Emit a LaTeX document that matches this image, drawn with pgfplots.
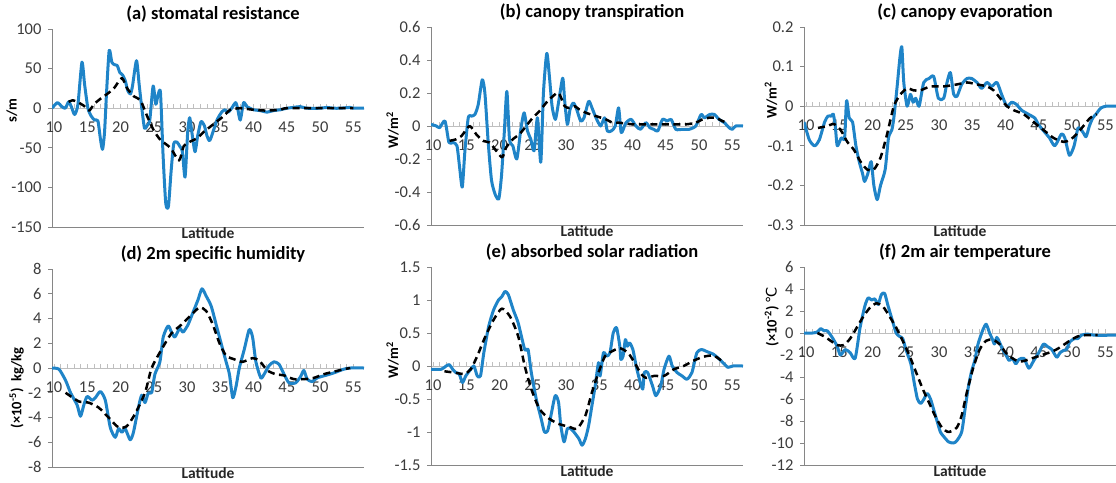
\documentclass[border=0pt]{standalone}
\usepackage{fontspec}
\setmainfont{Carlito}
\newfontfamily\dejavu{DejaVu Sans}
\usepackage{pgfplots}
\pgfplotsset{compat=1.18}
\definecolor{lineblue}{RGB}{31,132,200}
\definecolor{axisgray}{RGB}{134,134,134}
\definecolor{zerogray}{RGB}{191,191,191}
\definecolor{labelgray}{RGB}{60,60,60}

\pgfplotsset{
  panel/.style={
    scale only axis, width=312pt, height=198pt,
    xmin=9.7, xmax=56.6,
    axis x line=middle, axis y line=left,
    axis line style={-},
    every inner x axis line/.append style={-},
    every outer y axis line/.append style={-},
    x axis line style={-, draw=zerogray, line width=0.9pt},
    y axis line style={-, draw=axisgray, line width=1pt},
    xtick={10,15,...,55}, minor x tick num=4,
    xtick align=inside, ytick align=outside,
    major tick length=4pt, minor tick length=4pt,
    x tick style={draw=zerogray, line width=0.8pt},
    y tick style={draw=axisgray, line width=1pt},
    hide obscured x ticks=false, hide obscured y ticks=false,
    tick label style={font=\fontsize{16.5}{18}\selectfont, text=labelgray},
    /pgf/number format/assume math mode=true,
    xticklabel style={yshift=-10pt},
    yticklabel style={xshift=-3pt},
    xlabel={Latitude},
    xlabel style={at={(axis description cs:0.5,0)}, anchor=north,
      font=\fontsize{15.5}{17}\selectfont\bfseries, text=black!85, inner sep=0.5pt},
    title style={at={(axis description cs:0.5,1)}, anchor=center,
      yshift=9pt, xshift=5pt, font=\fontsize{18.5}{21}\selectfont\bfseries},
    ylabel style={anchor=center, font=\fontsize{14.5}{16}\selectfont\bfseries},
    after end axis/.code={\draw[axisgray, line width=1pt]
      (rel axis cs:0,0) -- (rel axis cs:1,0);},
  },
  blue line/.style={lineblue, line width=3pt, smooth, tension=0.4, line join=round},
  dash line/.style={black, line width=2.5pt, dash pattern=on 7pt off 4.5pt,
    smooth, tension=0.4, line join=round},
}

\begin{document}
\begin{tikzpicture}
\useasboundingbox (0,0) rectangle (1116pt,-482pt);

% (a) stomatal resistance
\begin{axis}[panel, at={(52pt,-227pt)}, anchor=south west,
  ymin=-150, ymax=100, ytick={-150,-100,-50,0,50,100},
  title={(a) stomatal resistance}, ylabel={s/m},
  ylabel style={at={(axis description cs:-0.129,0.59)}}]
\addplot[blue line] coordinates {
 (9.7,0) (10.5,7) (11.2,2) (11.7,0) (12.2,8) (12.6,2) (13.1,-8) (13.6,5)
 (14.2,58) (14.6,30) (15.1,0) (15.6,-10) (16.1,-15) (16.6,-16) (17.0,-40)
 (17.3,-52) (17.6,-30) (17.9,20) (18.3,73) (18.7,58) (19.1,55) (19.5,54)
 (19.9,45) (20.3,42) (20.7,35) (21.1,22) (21.5,18) (21.8,28) (22.4,60)
 (22.8,30) (23.2,0) (23.6,-25) (24.0,-22) (24.4,-15) (24.9,28) (25.3,5)
 (25.6,15) (26.0,20) (26.4,-60) (26.8,-120) (27.2,-124) (27.6,-80) (28.0,-45)
 (28.5,-43) (28.9,-48) (29.3,-55) (29.7,-87) (30.1,-30) (30.4,-12) (30.8,-35)
 (31.2,-55) (31.6,-35) (32.1,-17) (32.6,-22) (33.0,-35) (33.4,-41) (33.9,-30)
 (34.5,-15) (35.2,-5) (35.7,-2) (36.2,-5) (36.7,0) (37.3,7) (37.6,0)
 (38.0,-15) (38.5,7) (39.0,2) (40.0,-2) (41.0,-3) (42.0,-5) (43.0,-3)
 (44.0,-2) (45.0,0) (46.0,1) (47.0,2) (48.0,0) (50.0,0) (51.0,1) (52.0,0)
 (53.0,0) (54.5,1) (55.0,0) (56.6,0)
};
\addplot[dash line] coordinates {
 (12.2,8) (12.8,10) (13.5,8) (14.5,3) (15.3,-3) (16.0,5) (17.0,12) (18.0,18)
 (19.0,25) (20.2,38) (21.0,25) (22.0,15) (23.0,10) (24.0,-10) (25.0,-28)
 (26.0,-40) (27.5,-50) (28.8,-66) (29.5,-48) (30.5,-42) (31.5,-38) (32.5,-30)
 (34.0,-20) (35.5,-10) (36.5,-2) (38.0,0) (40.0,-2) (42.0,-3) (44.0,-2)
 (45.0,0) (50.0,0) (55.0,0)
};
\end{axis}

% (b) canopy transpiration
\begin{axis}[panel, at={(431pt,-225pt)}, anchor=south west,
  ymin=-0.6, ymax=0.6, ytick={-0.6,-0.4,-0.2,0,0.2,0.4,0.6},
  title={(b) canopy transpiration}, ylabel={W/m\textsuperscript{2}},
  ylabel style={at={(axis description cs:-0.123,0.48)}}]
\addplot[blue line] coordinates {
 (9.7,0.01) (10.5,0.0) (11.0,-0.01) (11.8,0.03) (12.4,-0.1) (13.0,-0.1)
 (13.6,-0.12) (14.0,-0.25) (14.4,-0.37) (14.8,-0.15) (15.3,0.05) (15.8,0.06)
 (16.3,0.07) (16.8,0.13) (17.4,0.28) (17.8,0.2) (18.3,-0.1) (18.8,-0.33)
 (19.4,-0.42) (19.9,-0.44) (20.3,-0.3) (20.7,-0.05) (21.1,0.21) (21.5,-0.08)
 (22.0,-0.12) (22.6,-0.2) (23.2,-0.02) (23.7,0.08) (24.2,-0.03) (24.7,-0.08)
 (25.2,-0.15) (25.7,0.05) (26.2,-0.22) (26.6,0.2) (27.1,0.44) (27.5,0.3)
 (27.9,0.12) (28.4,0.04) (28.9,0.15) (29.5,0.29) (29.8,0.15) (30.2,0.01)
 (30.6,0.1) (31.1,0.14) (31.6,0.1) (32.2,0.03) (32.7,0.05) (33.4,0.15)
 (33.9,0.11) (34.5,0.05) (35.2,0.0) (35.8,0.05) (36.2,-0.03) (36.8,-0.03)
 (37.4,0.0) (37.9,0.11) (38.3,-0.04) (39.0,0.02) (39.8,0.04) (40.5,0.0)
 (41.2,-0.02) (42.0,0.02) (42.6,-0.01) (43.2,-0.02) (43.8,-0.03) (44.5,0.04)
 (45.2,0.03) (45.8,0.04) (46.5,-0.02) (47.5,-0.02) (48.5,-0.02) (49.5,0.0)
 (50.3,0.07) (50.8,0.05) (51.6,0.07) (52.3,0.07) (53.0,0.04) (53.8,0.02)
 (54.5,-0.01) (55.0,-0.02) (55.5,0.0) (56.6,0.0)
};
\addplot[dash line] coordinates {
 (12.5,-0.09) (13.5,-0.08) (14.3,-0.06) (15.5,0.0) (16.5,-0.05) (17.5,-0.09)
 (18.5,-0.1) (19.5,-0.15) (20.4,-0.19) (21.0,-0.13) (22.0,-0.08) (23.0,-0.05)
 (24.0,0.0) (25.0,0.05) (26.0,0.09) (27.0,0.14) (28.0,0.18) (28.9,0.2)
 (29.8,0.12) (30.5,0.11) (31.3,0.12) (32.0,0.1) (33.0,0.08) (34.5,0.06)
 (36.0,0.04) (37.0,0.02) (38.0,0.02) (40.0,0.01) (42.0,0.01) (44.0,0.01)
 (46.0,0.01) (48.0,0.01) (49.5,0.02) (50.5,0.04) (51.5,0.05) (52.5,0.05)
 (53.5,0.03) (54.2,0.02)
};
\end{axis}

% (c) canopy evaporation
\begin{axis}[panel, at={(804pt,-225pt)}, anchor=south west,
  ymin=-0.3, ymax=0.2, ytick={-0.3,-0.2,-0.1,0,0.1,0.2},
  title={(c) canopy evaporation}, ylabel={W/m\textsuperscript{2}},
  ylabel style={at={(axis description cs:-0.106,0.63)}}]
\addplot[blue line] coordinates {
 (9.7,-0.04) (10.5,-0.085) (11.3,-0.1) (12.0,-0.085) (12.8,-0.04) (13.3,-0.025)
 (13.8,-0.025) (14.1,-0.02) (14.4,-0.05) (14.7,-0.1) (15.3,-0.08) (15.8,-0.08)
 (16.1,0.014) (16.5,-0.03) (17.0,-0.04) (17.5,-0.1) (18.0,-0.14) (18.5,-0.17)
 (18.8,-0.19) (19.3,-0.17) (19.8,-0.14) (20.2,-0.2) (20.7,-0.236) (21.2,-0.2)
 (21.9,-0.16) (22.4,-0.08) (22.9,-0.06) (23.2,-0.03) (23.7,0.05) (24.1,0.12)
 (24.4,0.15) (24.7,0.06) (25.2,0.0) (25.7,0.03) (26.1,0.01) (26.5,0.02)
 (27.0,0.0) (27.7,0.06) (28.5,0.07) (29.2,0.075) (29.9,0.02) (30.7,0.02)
 (31.2,0.06) (31.7,0.085) (32.2,0.03) (32.7,0.025) (33.4,0.055) (34.2,0.07)
 (34.9,0.07) (35.7,0.06) (36.4,0.045) (37.2,0.06) (37.9,0.05) (38.7,0.06)
 (39.4,0.03) (40.2,0.0) (40.9,0.01) (41.6,0.005) (42.4,-0.01) (43.4,-0.02)
 (44.4,-0.03) (44.9,-0.045) (45.6,-0.06) (46.6,-0.08) (47.4,-0.1) (48.4,-0.07)
 (48.9,-0.08) (49.6,-0.124) (50.3,-0.1) (50.9,-0.055) (51.6,-0.065)
 (52.1,-0.077) (52.6,-0.05) (53.1,-0.03) (53.6,-0.02) (54.3,-0.005)
 (55.1,0.0) (56.6,0.0)
};
\addplot[dash line] coordinates {
 (11.8,-0.055) (13.2,-0.05) (14.2,-0.045) (15.2,-0.06) (16.2,-0.09)
 (17.2,-0.11) (18.2,-0.14) (19.2,-0.16) (20.2,-0.16) (21.2,-0.13)
 (22.2,-0.07) (23.2,0.0) (24.2,0.03) (25.2,0.045) (26.2,0.04) (27.2,0.04)
 (28.7,0.05) (30.7,0.05) (32.7,0.055) (34.2,0.06) (35.7,0.055) (37.2,0.05)
 (38.2,0.04) (39.2,0.02) (40.2,0.0) (41.2,-0.01) (42.7,-0.02) (44.2,-0.04)
 (45.7,-0.06) (47.2,-0.08) (48.7,-0.09) (49.7,-0.085) (50.7,-0.07)
 (51.7,-0.05) (52.7,-0.03) (53.7,-0.02)
};
\end{axis}

% (d) 2m specific humidity
\begin{axis}[panel, at={(52pt,-467pt)}, anchor=south west,
  ymin=-8, ymax=8, ytick={-8,-6,...,8},
  title={(d) 2m specific humidity},
  ylabel={(×10\textsuperscript{-5})\ \ kg/kg},
  ylabel style={at={(axis description cs:-0.113,0.40)}}]
\addplot[blue line] coordinates {
 (9.7,0) (10.75,-0.1) (11.74,-1.0) (12.49,-2.0) (13.48,-3.0) (13.98,-3.9)
 (14.48,-3.0) (14.98,-2.3) (15.72,-2.6) (16.22,-2.4) (16.97,-1.9) (17.71,-2.6)
 (18.46,-4.8) (19.2,-5.6) (19.7,-4.9) (20.2,-5.2) (20.7,-4.9) (21.44,-5.8)
 (21.94,-5.2) (22.69,-3.2) (23.18,-2.2) (23.68,-2.8) (24.18,-2.0) (24.68,-2.0)
 (25.17,-0.5) (25.92,0.5) (26.42,2.5) (27.16,3.4) (27.66,2.9) (28.16,2.5)
 (28.9,3.2) (29.4,2.9) (30.15,3.5) (30.9,4.5) (31.64,5.5) (32.24,6.4)
 (32.89,5.8) (33.63,5.0) (34.38,3.5) (35.12,2.0) (35.87,0.5) (36.37,-0.5)
 (36.87,-2.4) (37.36,-1.5) (37.86,0.0) (38.6,1.5) (39.35,3.1) (39.85,2.5)
 (40.35,0.5) (41.09,-0.8) (41.59,-0.5) (42.34,0.2) (43.08,0.5) (43.83,0.3)
 (44.58,-0.5) (45.32,-1.2) (46.32,-1.2) (47.06,-0.7) (47.56,-0.2) (48.06,-0.9)
 (48.81,-1.1) (49.55,-0.8) (50.8,-0.6) (52.04,-0.4) (53.53,-0.1) (54.53,0)
 (56.6,0)
};
\addplot[dash line] coordinates {
 (11.74,-2.0) (13.73,-2.7) (15.22,-2.8) (16.72,-3.2) (18.21,-4.0) (19.7,-4.8)
 (20.95,-4.7) (22.19,-3.7) (23.68,-2.0) (24.68,0.0) (26.17,1.5) (27.66,2.8)
 (29.15,3.5) (30.65,4.3) (31.89,4.9) (32.89,4.6) (33.88,3.5) (34.88,2.0)
 (35.87,1.0) (37.11,0.7) (38.36,0.5) (39.85,0.8) (40.85,0.6) (42.09,-0.2)
 (43.33,-0.5) (44.58,-0.6) (46.07,-0.9) (47.56,-0.9) (49.05,-0.8)
 (50.55,-0.5) (52.04,-0.3) (53.53,-0.1) (54.53,0.0)
};
\end{axis}

% (e) absorbed solar radiation
\begin{axis}[panel, at={(431pt,-465pt)}, anchor=south west,
  ymin=-1.5, ymax=1.5, ytick={-1.5,-1,-0.5,0,0.5,1,1.5},
  title={(e) absorbed solar radiation}, ylabel={W/m\textsuperscript{2}},
  ylabel style={at={(axis description cs:-0.123,0.53)}}]
\addplot[blue line] coordinates {
 (9.7,-0.05) (11.23,-0.05) (11.97,0.0) (12.46,0.02) (12.96,-0.05) (13.45,-0.1)
 (13.94,-0.12) (14.43,-0.25) (14.93,-0.15) (15.67,-0.05) (16.16,0.0)
 (16.65,-0.15) (17.14,-0.15) (17.64,0.2) (18.37,0.6) (19.11,0.85) (19.85,1.0)
 (20.34,1.05) (20.84,1.13) (21.33,1.08) (22.07,0.85) (22.81,0.65) (23.79,0.25)
 (24.29,0.25) (24.78,-0.1) (25.52,-0.5) (26.26,-0.8) (26.75,-1.0) (27.24,-0.98)
 (27.73,-0.75) (28.37,-0.45) (28.87,-0.55) (29.21,-0.9) (29.7,-1.15)
 (30.2,-0.95) (30.69,-0.95) (31.18,-1.0) (31.92,-1.1) (32.41,-1.2)
 (32.91,-1.1) (33.4,-0.9) (33.89,-0.6) (34.38,-0.3) (34.88,0.05) (35.12,-0.15)
 (35.62,0.2) (36.11,0.15) (36.6,0.2) (37.09,0.5) (37.59,0.58) (38.08,0.3)
 (38.23,0.1) (38.57,0.15) (38.92,0.4) (39.21,0.3) (39.56,0.35) (40.05,0.25)
 (40.54,0.0) (41.03,-0.2) (41.53,-0.35) (41.77,-0.1) (42.27,-0.1) (43.0,-0.3)
 (43.5,-0.45) (44.24,-0.3) (44.73,-0.05) (45.47,0.15) (45.96,0.0) (46.7,-0.1)
 (47.44,-0.15) (48.18,-0.2) (48.92,-0.1) (49.66,0.2) (50.39,0.25) (51.13,0.22)
 (52.12,0.18) (52.86,0.12) (53.6,0.05) (54.33,-0.02) (55.07,0.0) (56.6,0.0)
};
\addplot[dash line] coordinates {
 (11.72,-0.08) (13.2,-0.1) (14.68,-0.12) (15.67,-0.05) (16.65,0.15)
 (17.88,0.45) (19.11,0.7) (20.34,0.87) (21.58,0.75) (22.81,0.45) (23.79,0.0)
 (24.78,-0.35) (26.01,-0.65) (27.49,-0.8) (28.97,-0.88) (30.44,-0.92)
 (31.67,-0.95) (32.91,-0.75) (33.89,-0.4) (34.88,-0.1) (35.86,0.15)
 (36.85,0.22) (38.08,0.27) (39.31,0.2) (40.3,0.05) (41.28,-0.12) (42.02,-0.18)
 (43.25,-0.15) (44.73,-0.15) (46.21,-0.05) (47.68,0.0) (49.16,0.08)
 (50.64,0.14) (52.12,0.16) (53.1,0.1) (53.6,0.05)
};
\end{axis}

% (f) 2m air temperature
\begin{axis}[panel, at={(804pt,-465pt)}, anchor=south west,
  ymin=-12, ymax=6, ytick={-12,-10,...,6},
  title={(f) 2m air temperature},
  ylabel={(×10\textsuperscript{-2})\ {\dejavu\mdseries ℃}},
  ylabel style={at={(axis description cs:-0.103,0.75)}}]
\addplot[blue line] coordinates {
 (9.7,0) (10.99,0) (11.72,0.1) (12.22,0.4) (12.71,0.2) (13.2,0.2) (13.94,-0.4)
 (14.68,-1.2) (15.17,-2.0) (15.91,-1.5) (16.65,-1.8) (17.39,-2.3) (18.13,0.5)
 (18.87,2.5) (19.36,3.2) (19.85,3.0) (20.34,3.1) (20.84,2.6) (21.33,3.5)
 (21.82,3.6) (22.32,2.5) (23.05,1.0) (23.55,0.0) (24.04,-0.3) (24.53,-0.5)
 (25.02,-1.5) (25.76,-2.8) (26.26,-4.5) (26.75,-6.0) (27.24,-6.4) (27.73,-6.0)
 (28.23,-5.5) (28.72,-6.0) (29.21,-7.0) (29.7,-8.0) (30.2,-9.0) (30.69,-9.4)
 (31.43,-9.9) (32.17,-10.0) (32.66,-9.8) (33.4,-9.0) (33.89,-7.0) (34.38,-5.0)
 (34.88,-3.5) (35.37,-2.5) (35.86,-1.0) (36.6,0.3) (37.09,0.8) (37.59,0.0)
 (37.98,-0.5) (38.32,-1.0) (38.67,-0.4) (39.06,-0.8) (39.56,-1.5) (40.05,-2.0)
 (40.54,-2.5) (41.03,-2.3) (41.53,-2.8) (42.02,-2.4) (42.76,-2.3) (43.5,-3.2)
 (44.24,-2.5) (44.98,-1.8) (45.71,-1.0) (46.21,-1.2) (46.95,-1.5) (47.68,-2.2)
 (48.18,-1.8) (48.67,-1.6) (49.16,-1.5) (49.66,-0.8) (50.39,-0.5) (50.89,-0.5)
 (51.38,-0.2) (52.36,-0.1) (53.35,-0.2) (56.6,-0.2)
};
\addplot[dash line] coordinates {
 (11.72,0.0) (12.71,-0.3) (13.69,-0.7) (14.68,-1.1) (15.67,-1.1) (16.65,-0.5)
 (17.64,0.5) (18.62,1.5) (19.61,2.3) (20.59,2.7) (21.58,2.4) (22.56,1.5)
 (23.55,0.5) (24.53,-0.7) (25.52,-2.0) (26.5,-3.5) (27.49,-5.0) (28.47,-6.3)
 (29.46,-7.6) (30.44,-8.6) (31.43,-9.0) (32.66,-8.6) (33.4,-7.5) (34.14,-5.5)
 (35.12,-3.2) (36.11,-1.5) (37.09,-0.7) (38.08,-0.6) (39.06,-1.0) (40.05,-1.8)
 (41.03,-2.3) (42.02,-2.6) (43.0,-2.5) (43.99,-2.3) (44.98,-2.1) (45.96,-1.9)
 (46.95,-1.7) (47.93,-1.4) (48.92,-1.0) (49.9,-0.6) (50.89,-0.3) (51.87,-0.2)
 (52.86,-0.2) (53.84,-0.2)
};
\end{axis}
\end{tikzpicture}
\end{document}
